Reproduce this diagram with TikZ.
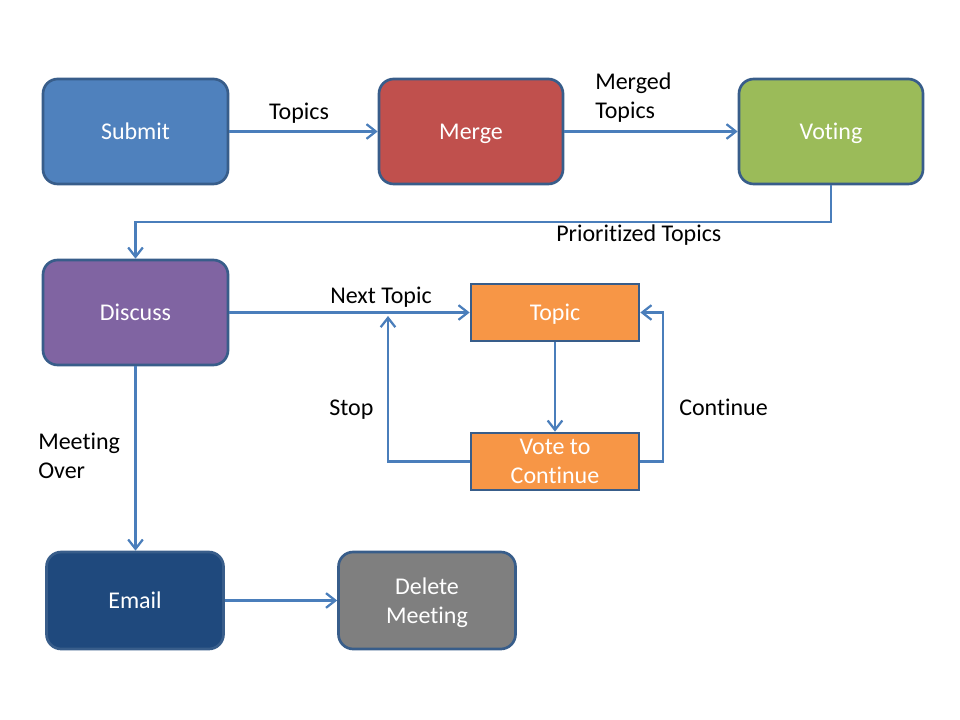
\documentclass[tikz,border=0pt]{standalone}
\usepackage{fontspec}
\setmainfont{Carlito}[Ligatures=NoCommon]
\usetikzlibrary{arrows.meta}
\definecolor{bord}{HTML}{385D8A}
\definecolor{conn}{HTML}{4A7EBB}
\definecolor{cSubmit}{HTML}{4F81BD}
\definecolor{cMerge}{HTML}{C0504D}
\definecolor{cVoting}{HTML}{9BBB59}
\definecolor{cDiscuss}{HTML}{8064A2}
\definecolor{cTopic}{HTML}{F79646}
\definecolor{cEmail}{HTML}{1F497D}
\definecolor{cDelete}{HTML}{7F7F7F}
\tikzset{
  box/.style={draw=bord, line width=2pt, text=white, inner sep=0pt,
    font=\fontsize{18}{21.75}\selectfont, align=center},
  rbox/.style={box, rounded corners=11pt},
  oneline/.style={text height=11.6pt, text depth=0pt},
  lbl/.style={font=\fontsize{18}{21.75}\selectfont, inner sep=0pt, align=left, text=black},
  connector/.style={draw=conn, line width=1.7pt, -{Straight Barb[length=7pt,width=11pt]}},
}
\begin{document}
\begin{tikzpicture}[x=0.75pt,y=-0.75pt]
\useasboundingbox (0,0) rectangle (960,720);
% boxes
\node[rbox, oneline, fill=cSubmit, minimum width=185*0.75pt, minimum height=105*0.75pt] (submit) at (135.5,131.5) {Submit};
\node[rbox, oneline, fill=cMerge, minimum width=184*0.75pt, minimum height=105*0.75pt] (merge) at (471,131.5) {Merge};
\node[rbox, oneline, fill=cVoting, minimum width=184*0.75pt, minimum height=105*0.75pt] (voting) at (831,131.5) {Voting};
\node[rbox, oneline, fill=cDiscuss, minimum width=185*0.75pt, minimum height=105*0.75pt] (discuss) at (135.5,312.5) {Discuss};
\node[box, oneline, fill=cTopic, minimum width=168*0.75pt, minimum height=57*0.75pt] (topic) at (555,312.5) {Topic};
\node[box, fill=cTopic, minimum width=168*0.75pt, minimum height=57*0.75pt] (vote) at (555,461.5) {Vote to\\Continue};
\node[rbox, oneline, fill=cEmail, minimum width=177*0.75pt, minimum height=97*0.75pt] (email) at (135,600.5) {Email};
\node[rbox, fill=cDelete, minimum width=177*0.75pt, minimum height=97*0.75pt] (delete) at (427,600.5) {Delete\\Meetin\smash{g}};
% labels
\node[lbl, anchor=base] (ltopics) at (299,120) {Topics};
\node[lbl, anchor=base west] (lmerged) at (595,119) {Merged\\Topics};
\node[lbl, anchor=base west] (lprio) at (556,242) {Prioritized Topics};
\node[lbl, anchor=base west] (lnext) at (330,303) {Next Topic};
\node[lbl, anchor=base west] (lstop) at (329,415) {Stop};
\node[lbl, anchor=base west] (lcont) at (679,415) {Continue};
\node[lbl, anchor=base west] (lover) at (38,478) {Meeting\\Over};
% connector points
\coordinate (c1) at (831,222);
\coordinate (stoptip) at (388,316);
\coordinate (cx) at (663,461.5);
% connectors
\draw[connector] (submit.east) -- (merge.west);
\draw[connector] (merge.east) -- (voting.west);
\draw[connector] (voting.south) -- (c1) -| (discuss.north);
\draw[connector] (discuss.east) -- (topic.west);
\draw[connector] (topic.south) -- (vote.north);
\draw[connector] (vote.west) -| (stoptip);
\draw[connector] (vote.east) -- (cx) |- (topic.east);
\draw[connector] (discuss.south) -- (discuss.south |- email.north);
\draw[connector] (email.east) -- (delete.west);
\end{tikzpicture}
\end{document}
